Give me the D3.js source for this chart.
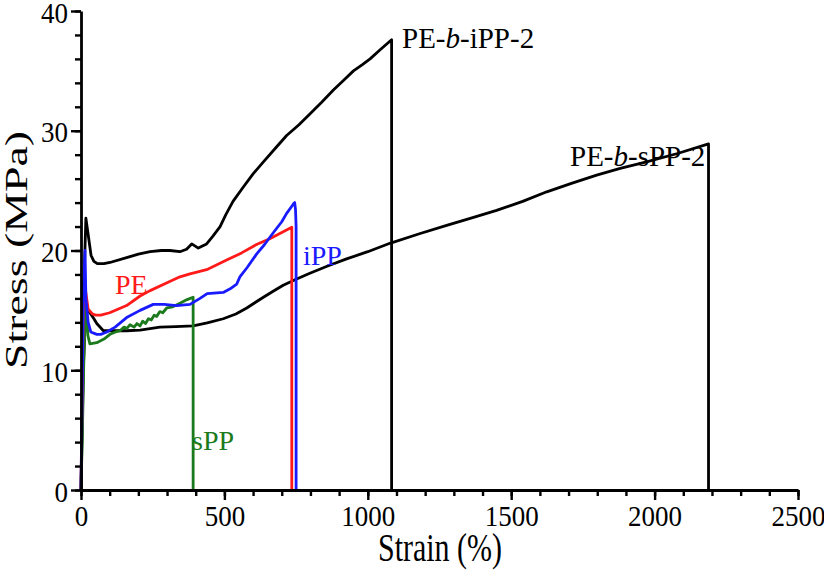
<!DOCTYPE html>
<html>
    <head>
        <script src="https://d3js.org/d3.v7.min.js"></script>
        <style>
            body { margin: 0; background: #fff; }
        </style>
    </head>
    <body>
        <script>
            // tensile curves: strain (%) and stress (MPa)
            let iPP2_strain = [0, 5, 10, 17, 24, 35, 45, 57, 80, 101, 159, 200, 241, 280, 310, 345, 368, 386, 409, 438, 460, 485, 505, 530, 566, 600, 636, 680, 717, 760, 798, 840, 880, 915, 950, 980, 1008, 1045, 1083, 1083];
            let iPP2_stress = [0, 8, 17, 22.7, 21.5, 19.6, 19.1, 18.9, 18.9, 19.0, 19.4, 19.7, 19.9, 20.0, 20.0, 19.9, 20.1, 20.55, 20.2, 20.55, 21.2, 22.0, 23.0, 24.1, 25.3, 26.4, 27.4, 28.6, 29.6, 30.5, 31.4, 32.4, 33.4, 34.2, 35.0, 35.5, 36.0, 36.8, 37.6, 0];

            let sPP2_strain = [0, 8, 16, 24, 31, 45, 55, 78, 120, 159, 206, 275, 330, 391, 440, 496, 540, 578, 610, 636, 670, 705, 750, 798, 860, 926, 1000, 1077, 1180, 1275, 1360, 1449, 1540, 1624, 1710, 1798, 1880, 1972, 2080, 2188, 2188];
            let sPP2_stress = [0, 10, 15.0, 15.0, 14.8, 14.3, 13.9, 13.3, 13.3, 13.3, 13.35, 13.6, 13.65, 13.7, 13.95, 14.3, 14.7, 15.2, 15.7, 16.1, 16.6, 17.1, 17.6, 18.1, 18.7, 19.3, 19.9, 20.6, 21.4, 22.1, 22.7, 23.35, 24.1, 24.9, 25.6, 26.3, 26.85, 27.4, 28.1, 28.9, 0];

            let pe_strain = [0, 4, 8, 12, 18, 25, 40, 51, 69, 100, 159, 206, 241, 300, 345, 380, 438, 508, 560, 612, 660, 700, 735, 735];
            let pe_stress = [0, 8, 15, 17.4, 16.3, 15.1, 14.7, 14.6, 14.6, 14.8, 15.4, 16.2, 16.65, 17.3, 17.8, 18.05, 18.4, 19.2, 19.8, 20.5, 21.0, 21.5, 21.95, 0];

            let ipp_strain = [0, 4, 8, 14, 17, 25, 34, 55, 69, 90, 119, 159, 206, 252, 290, 333, 380, 415, 440, 496, 520, 543, 554, 580, 612, 640, 671, 700, 717, 735, 741, 745, 748, 750, 750];
            let ipp_stress = [0, 8, 16, 20.0, 16, 14, 13.2, 13.0, 13.0, 13.2, 13.6, 14.4, 15.0, 15.5, 15.5, 15.4, 15.5, 16.0, 16.4, 16.5, 16.8, 17.2, 17.8, 18.6, 19.7, 20.5, 21.5, 22.4, 23.1, 23.7, 23.9, 24.0, 23.4, 22.0, 0];

            let spp_strain = [0, 5, 10, 17, 24, 31, 55, 80, 101, 120, 136, 150, 160, 171, 185, 195, 206, 215, 225, 235, 245, 255, 264, 275, 285, 299, 320, 345, 370, 391, 391];
            let spp_stress = [0, 5, 11, 15.9, 12.9, 12.2, 12.3, 12.6, 13.0, 13.2, 13.3, 13.6, 13.5, 13.8, 13.6, 13.9, 13.7, 14.1, 13.9, 14.3, 14.2, 14.6, 14.5, 14.9, 14.8, 15.2, 15.3, 15.6, 15.9, 16.1, 0];

            let x_ticks = [0, 500, 1000, 1500, 2000, 2500];
            let y_ticks = [0, 10, 20, 30, 40];

            var width = 824;
            var height = 571;
            var serif = '"Liberation Serif", "Times New Roman", Times, serif';

            var svg = d3.select('body').append('svg')
                .attr('width', width)
                .attr('height', height);

            var x = d3.scaleLinear().domain([0, 2500]).range([81, 798]);
            var y = d3.scaleLinear().domain([0, 40]).range([490, 11]);

            function zip(xs, ys) {
                return xs.map(function (d, i) { return [d, ys[i]]; });
            }

            var line = d3.line()
                .x(function (d) { return x(d[0]); })
                .y(function (d) { return y(d[1]); });

            var curves = [
                [zip(iPP2_strain, iPP2_stress), "#000"],
                [zip(sPP2_strain, sPP2_stress), "#000"],
                [zip(spp_strain, spp_stress), "#1b7a1b"],
                [zip(pe_strain, pe_stress), "#ff1a1a"],
                [zip(ipp_strain, ipp_stress), "#1a1aff"]
            ];

            svg.selectAll('path.curve')
                .data(curves)
                .enter()
                .append('path')
                .attr('class', 'curve')
                .attr('d', function (d) { return line(d[0]); })
                .attr('fill', 'none')
                .attr('stroke', function (d) { return d[1]; })
                .attr('stroke-width', 2.8)
                .attr('stroke-linejoin', 'round');

            //minor ticks first, no labels
            svg.append('g')
                .attr('transform', 'translate(0,490)')
                .call(d3.axisBottom(x).tickValues(d3.range(0, 2501, 100)).tickSize(6).tickFormat(''))
                .call(function (g) { g.select('.domain').remove(); });
            svg.append('g')
                .attr('transform', 'translate(81,0)')
                .call(d3.axisLeft(y).tickValues(d3.range(0, 41, 2)).tickSize(6).tickFormat(''))
                .call(function (g) { g.select('.domain').remove(); });

            svg.append('g')
                .attr('transform', 'translate(0,490)')
                .call(d3.axisBottom(x).tickValues(x_ticks).tickSize(10).tickSizeOuter(0).tickPadding(4).tickFormat(d3.format('d')));
            var yAxis = svg.append('g')
                .attr('transform', 'translate(81,0)')
                .call(d3.axisLeft(y).tickValues(y_ticks).tickSize(10).tickSizeOuter(0).tickPadding(3).tickFormat(d3.format('d')));

            svg.selectAll('g').attr('font-family', serif);
            svg.selectAll('.tick line').attr('stroke', '#000').attr('stroke-width', 2.4);
            svg.selectAll('.domain').attr('stroke', '#000').attr('stroke-width', 2.8);
            //the figure's lettering is a little taller than it is wide
            svg.selectAll('.tick text')
                .attr('font-size', 27)
                .attr('fill', '#000')
                .attr('transform', 'scale(1,1.1)');
            yAxis.selectAll('.tick text').attr('dy', '0.37em');

            function label(tx, ty, size, color) {
                return svg.append('text')
                    .attr('x', tx)
                    .attr('y', ty)
                    .attr('font-family', serif)
                    .attr('font-size', size)
                    .attr('fill', color);
            }

            svg.append('text')
                .attr('transform', 'translate(440,561) scale(1,1.35)')
                .attr('text-anchor', 'middle')
                .attr('font-family', serif)
                .attr('font-size', 30)
                .attr('fill', '#000')
                .text('Strain (%)');

            svg.append('text')
                .attr('transform', 'translate(27,250) rotate(-90)')
                .attr('text-anchor', 'middle')
                .attr('font-family', serif)
                .attr('font-size', 31)
                .attr('textLength', 238)
                .attr('lengthAdjust', 'spacingAndGlyphs')
                .attr('fill', '#000')
                .text('Stress (MPa)');

            //curve labels
            var t1 = label(402, 48, 29, '#000');
            t1.append('tspan').text('PE-');
            t1.append('tspan').attr('font-style', 'italic').text('b');
            t1.append('tspan').text('-iPP-2');

            var t2 = label(570, 166, 29, '#000');
            t2.append('tspan').text('PE-');
            t2.append('tspan').attr('font-style', 'italic').text('b');
            t2.append('tspan').text('-sPP-2');

            label(303, 265, 28, '#1a1aff').text('iPP');
            label(115, 294, 28, '#ff1a1a').text('PE');
            label(192, 450, 28, '#1b7a1b').text('sPP');
        </script>
    </body>
</html>
